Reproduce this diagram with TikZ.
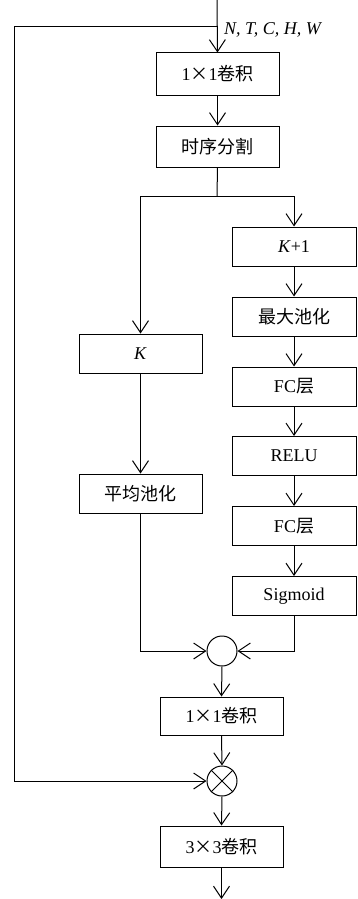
\documentclass[tikz,border=0pt]{standalone}
\usepackage{fontspec}
\setmainfont{Liberation Serif}
\newfontfamily\cjk{Noto Sans CJK SC}
\usetikzlibrary{arrows.meta}
\tikzset{
  box/.style={draw, line width=1pt, minimum width=123pt, minimum height=40pt, inner sep=0pt, font=\fontsize{18}{20}\selectfont},
  rbox/.style={box, minimum width=124pt, minimum height=39pt},
  junc/.style={draw, line width=1pt, circle, minimum size=30pt, inner sep=0pt},
  arr/.style={line width=1pt, -{Straight Barb[length=12pt, width=16pt, line width=1pt]}},
  ln/.style={line width=1pt}
}
\begin{document}
\begin{tikzpicture}[x=1pt, y=-1pt]
\useasboundingbox (0,0) rectangle (357,899);
% main column top
\node[box, minimum height=42pt] (b1) at (217.5,74) {1{\cjk ×}1{\cjk 卷积}};
\node[box, minimum height=41pt] (b2) at (217.5,146.5) {{\cjk 时序分割}};
% right column
\node[rbox] (kp) at (294,246.5) {\textit{K}+1};
\node[rbox] (mp) at (294,316.5) {{\cjk 最大池化}};
\node[rbox] (fa) at (294,386.5) {FC{\cjk 层}};
\node[rbox] (re) at (294,456) {RELU};
\node[rbox] (fb) at (294,526) {FC{\cjk 层}};
\node[rbox] (sg) at (294,596) {Sigmoid};
% left column
\node[box, minimum height=39pt] (k) at (140.5,353.5) {\textit{K}};
\node[box, minimum height=39pt] (ap) at (140.5,493.5) {{\cjk 平均池化}};
% bottom
\node[junc] (c1) at (222,651) {};
\node[box, minimum height=38pt] (b3) at (221.5,716) {1{\cjk ×}1{\cjk 卷积}};
\node[junc] (c2) at (222,781) {};
\draw[ln] (c2.45) -- (c2.225) (c2.135) -- (c2.315);
\node[box, minimum height=41pt] (b4) at (221.5,846.5) {3{\cjk ×}3{\cjk 卷积}};
% coordinates
\coordinate (top) at (217,0);
\coordinate (fbk) at (217,27);
\coordinate (lft) at (14,27);
\coordinate (sp) at (217,196);
\coordinate (end) at (221.5,899);
% label
\node[anchor=base west, inner sep=0pt, font=\fontsize{18}{20}\selectfont\itshape] (lab) at (224,35) {N, T, C, H, W};
% connectors
\draw[arr] (top) -- (b1.north);
\draw[ln] (fbk) -- (lft);
\draw[arr] (lft) |- (c2.west);
\draw[arr] (b1.south) -- (b2.north);
\draw[ln] (b2.south) -- (sp);
\draw[arr] (sp) -| (k.north);
\draw[arr] (sp) -| (kp.north);
\draw[arr] (kp) -- (mp);
\draw[arr] (mp) -- (fa);
\draw[arr] (fa) -- (re);
\draw[arr] (re) -- (fb);
\draw[arr] (fb) -- (sg);
\draw[arr] (k) -- (ap);
\draw[arr] (ap.south) |- (c1.west);
\draw[arr] (sg.south) |- (c1.east);
\draw[arr] (c1.south) -- (b3.north);
\draw[arr] (b3.south) -- (c2.north);
\draw[arr] (c2.south) -- (b4.north);
\draw[arr] (b4.south) -- (end);
\end{tikzpicture}
\end{document}
